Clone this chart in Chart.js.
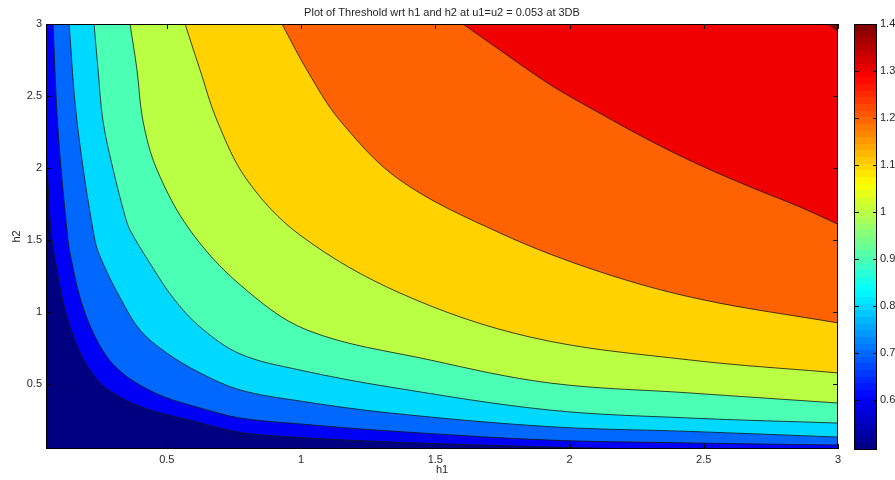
<!DOCTYPE html>
<html lang="en">
<head>
<meta charset="UTF-8">
<title>Plot of Threshold wrt h1 and h2</title>
<script src="https://cdn.jsdelivr.net/npm/chart.js"></script>
<style>
  body { margin: 0; background: #fff; }
  #wrap { position: relative; width: 895px; height: 480px; }
  #plot { position: absolute; left: 0; top: 0; }
  #cbar { position: absolute; left: 846px; top: 0; }
</style>
</head>
<body>
<div id="wrap">
  <canvas id="plot" width="895" height="480"></canvas>
  <canvas id="cbar" width="49" height="480"></canvas>
</div>
<script>
// contour levels of the threshold and the [h1, h2] points of each contour line
var levels = [0.6, 0.7, 0.8, 0.9, 1.0, 1.1, 1.2, 1.3, 1.4];

var c060 = [[0.05,2.19],[0.061,1.78],[0.072,1.50],[0.087,1.34],[0.11,1.10],[0.143,0.88],[0.184,0.69],[0.221,0.58],[0.262,0.49],[0.326,0.41],[0.437,0.32],[0.586,0.25],[0.773,0.165],[0.996,0.13],[1.331,0.099],[1.927,0.064],[2.30,0.05],[3.0,0.05]];
var c070 = [[0.076,3.0],[0.095,2.26],[0.132,1.50],[0.147,1.34],[0.177,1.10],[0.221,0.876],[0.277,0.69],[0.333,0.58],[0.40,0.494],[0.493,0.41],[0.624,0.335],[0.773,0.265],[0.996,0.224],[1.331,0.175],[1.927,0.112],[2.448,0.092],[3.0,0.078]];
var c080 = [[0.136,3.0],[0.165,2.33],[0.232,1.50],[0.262,1.34],[0.326,1.10],[0.40,0.876],[0.50,0.716],[0.624,0.578],[0.773,0.46],[0.996,0.383],[1.331,0.30],[1.927,0.205],[2.448,0.172],[3.0,0.133]];
var c090 = [[0.229,3.0],[0.244,2.68],[0.262,2.33],[0.30,1.99],[0.344,1.67],[0.363,1.57],[0.437,1.34],[0.523,1.10],[0.624,0.897],[0.773,0.71],[0.996,0.598],[1.331,0.48],[1.927,0.32],[2.448,0.265],[3.0,0.23]];
var c100 = [[0.363,3.0],[0.389,2.68],[0.411,2.33],[0.463,1.99],[0.586,1.57],[0.773,1.19],[1.022,0.876],[1.48,0.668],[1.927,0.508],[2.448,0.439],[3.0,0.369]];
var c110 = [[0.568,3.0],[0.624,2.68],[0.687,2.33],[0.799,1.917],[0.996,1.535],[1.368,1.133],[1.853,0.827],[2.448,0.668],[3.0,0.578]];
var c120 = [[0.929,3.0],[1.022,2.68],[1.145,2.33],[1.368,1.917],[1.74,1.55],[2.113,1.28],[2.486,1.09],[3.0,0.925]];
var c130 = [[1.603,3.0],[1.74,2.82],[1.927,2.58],[2.113,2.38],[2.30,2.19],[2.486,2.02],[2.672,1.87],[2.858,1.73],[3.0,1.61]];
var c140 = [[2.962,3.0],[3.0,2.95]];
var contours = [c060, c070, c080, c090, c100, c110, c120, c130, c140];

var xTicks = [0.5, 1, 1.5, 2, 2.5, 3];
var yTicks = [0.5, 1, 1.5, 2, 2.5, 3];
var cbTicks = [0.6, 0.7, 0.8, 0.9, 1, 1.1, 1.2, 1.3, 1.4];
var axisRange = [0.05, 3];
var colorRange = [0.494, 1.4];

var titleText = 'Plot of Threshold wrt h1 and h2 at u1=u2 = 0.053 at 3DB';
var fontFamily = '"Liberation Sans", Arial, sans-serif';
var textColor = '#262626';

// matlab style jet colormap
function jet(t) {
  var c = function(v) { return Math.round(255 * Math.max(0, Math.min(1, v))); };
  var r = c(Math.min(4 * t - 1.5, -4 * t + 4.5));
  var g = c(Math.min(4 * t - 0.5, -4 * t + 3.5));
  var b = c(Math.min(4 * t + 0.5, -4 * t + 2.5));
  return 'rgb(' + r + ',' + g + ',' + b + ')';
}
function levelColor(v) {
  return jet((v - colorRange[0]) / (colorRange[1] - colorRange[0]));
}
// 1 -> "1", 2.5 -> "2.5"
function plainLabel(v) { return String(v); }

// highest level first so its fill is painted last (on top)
var datasets = levels.map(function(lv, i) {
  return {
    label: String(lv),
    data: contours[i].map(function(p) { return {x: p[0], y: p[1]}; }),
    fill: 'end',
    backgroundColor: levelColor(lv),
    borderColor: '#151515',
    borderWidth: 0.8,
    pointRadius: 0,
    tension: 0.35
  };
}).reverse();

// navy background, inner ticks and box like matlab axes
var plotFrame = {
  id: 'plotFrame',
  beforeDraw: function(chart) {
    var a = chart.chartArea, ctx = chart.ctx;
    ctx.save();
    ctx.fillStyle = levelColor(colorRange[0]);
    ctx.fillRect(a.left, a.top, a.right - a.left, a.bottom - a.top);
    ctx.restore();
  },
  afterDraw: function(chart) {
    var a = chart.chartArea, ctx = chart.ctx;
    var sx = chart.scales.x, sy = chart.scales.y;
    ctx.save();
    ctx.strokeStyle = '#000';
    ctx.lineWidth = 1;
    ctx.beginPath();
    sx.ticks.forEach(function(t) {
      var p = Math.round(sx.getPixelForValue(t.value)) + 0.5;
      ctx.moveTo(p, a.bottom); ctx.lineTo(p, a.bottom - 5);
      ctx.moveTo(p, a.top); ctx.lineTo(p, a.top + 5);
    });
    sy.ticks.forEach(function(t) {
      var p = Math.round(sy.getPixelForValue(t.value)) + 0.5;
      ctx.moveTo(a.left, p); ctx.lineTo(a.left + 5, p);
      ctx.moveTo(a.right, p); ctx.lineTo(a.right - 5, p);
    });
    ctx.stroke();
    ctx.strokeRect(a.left + 0.5, a.top + 0.5, a.right - a.left - 1, a.bottom - a.top - 1);
    ctx.restore();
  }
};

new Chart(document.getElementById('plot'), {
  type: 'line',
  data: { datasets: datasets },
  options: {
    responsive: false,
    animation: false,
    layout: { padding: { left: 0, right: 57, top: 0, bottom: 0 } },
    plugins: {
      legend: { display: false },
      tooltip: { enabled: false },
      filler: { drawTime: 'beforeDatasetsDraw' },
      title: {
        display: true,
        fullSize: false,
        text: titleText,
        color: textColor,
        font: { family: fontFamily, size: 11, weight: 'normal' },
        padding: { top: 6, bottom: 4.8 }
      }
    },
    scales: {
      x: {
        type: 'linear',
        min: axisRange[0],
        max: axisRange[1],
        grid: { display: false, drawTicks: false },
        border: { display: false },
        afterBuildTicks: function(s) { s.ticks = xTicks.map(function(v) { return {value: v}; }); },
        afterFit: function(s) { s.height = 31; },
        ticks: { color: textColor, font: { family: fontFamily, size: 11 }, padding: 4, maxRotation: 0, autoSkip: false, callback: plainLabel },
        title: { display: true, text: 'h1', color: textColor, font: { family: fontFamily, size: 11 }, padding: { top: 0, bottom: 3 } }
      },
      y: {
        type: 'linear',
        min: axisRange[0],
        max: axisRange[1],
        grid: { display: false, drawTicks: false },
        border: { display: false },
        afterBuildTicks: function(s) { s.ticks = yTicks.map(function(v) { return {value: v}; }); },
        afterFit: function(s) { s.width = 46; },
        ticks: { color: textColor, font: { family: fontFamily, size: 11 }, padding: 4, autoSkip: false, callback: plainLabel },
        title: { display: true, text: 'h2', color: textColor, font: { family: fontFamily, size: 11 }, padding: { top: 10, bottom: 0 } }
      }
    }
  },
  plugins: [plotFrame]
});

// colorbar
var cbFrame = {
  id: 'cbFrame',
  afterDraw: function(chart) {
    var a = chart.chartArea, ctx = chart.ctx, sy = chart.scales.y;
    ctx.save();
    ctx.strokeStyle = '#000';
    ctx.lineWidth = 1;
    ctx.beginPath();
    sy.ticks.forEach(function(t) {
      var p = Math.round(sy.getPixelForValue(t.value)) + 0.5;
      ctx.moveTo(a.left, p); ctx.lineTo(a.left + 5, p);
      ctx.moveTo(a.right, p); ctx.lineTo(a.right - 4, p);
    });
    ctx.stroke();
    ctx.strokeRect(a.left + 0.5, a.top + 0.5, a.right - a.left - 1, a.bottom - a.top - 1);
    ctx.restore();
  }
};

new Chart(document.getElementById('cbar'), {
  type: 'bar',
  data: {
    labels: ['threshold'],
    datasets: [{
      data: [colorRange],
      borderWidth: 0,
      barPercentage: 1,
      categoryPercentage: 1,
      backgroundColor: function(c) {
        var a = c.chart.chartArea;
        if (!a) return 'transparent';
        var g = c.chart.ctx.createLinearGradient(0, a.bottom, 0, a.top);
        for (var i = 0; i < 64; i++) {
          var col = jet((i + 0.5) / 64);
          g.addColorStop(i / 64, col);
          g.addColorStop((i + 1) / 64, col);
        }
        return g;
      }
    }]
  },
  options: {
    responsive: false,
    animation: false,
    layout: { padding: { left: 8, top: 24, bottom: 30, right: 0 } },
    plugins: { legend: { display: false }, tooltip: { enabled: false } },
    scales: {
      x: { display: false },
      y: {
        position: 'right',
        min: colorRange[0],
        max: colorRange[1],
        grid: { display: false, drawTicks: false },
        border: { display: false },
        afterBuildTicks: function(s) { s.ticks = cbTicks.map(function(v) { return {value: v}; }); },
        afterFit: function(s) { s.width = 18; },
        ticks: { color: textColor, font: { family: fontFamily, size: 11 }, padding: 3, autoSkip: false, callback: plainLabel }
      }
    }
  },
  plugins: [cbFrame]
});
</script>
</body>
</html>
